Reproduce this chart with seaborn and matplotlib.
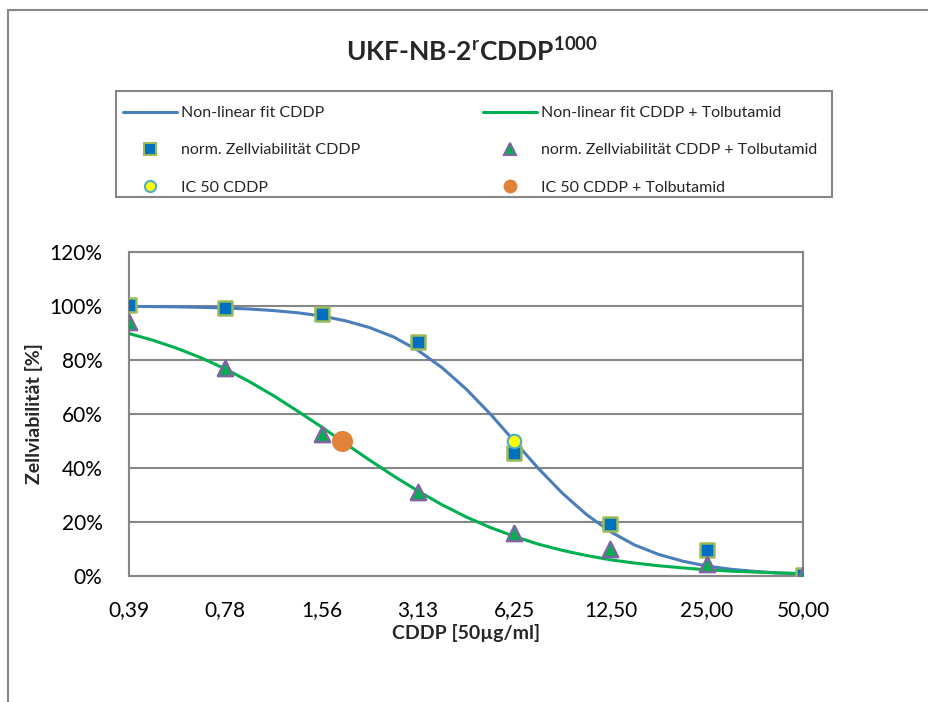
import matplotlib
matplotlib.use("Agg")
import matplotlib.pyplot as plt
import seaborn as sns
import pandas as pd
from matplotlib.lines import Line2D
from matplotlib.patches import Rectangle
from matplotlib.ticker import FixedLocator

# ---------------- data ----------------
conc_labels = ["0,39", "0,78", "1,56", "3,13", "6,25", "12,50", "25,00", "50,00"]
viab_cddp = [100.5, 99.2, 97.0, 86.5, 45.5, 19.2, 9.8, 0.4]
viab_cddp_tolb = [94.0, 77.0, 52.5, 31.0, 16.0, 10.0, 4.3, 0.5]
ic50_cddp_pos = [4.0]
ic50_cddp_val = [50.0]
ic50_tolb_pos = [2.21]
ic50_tolb_val = [50.0]
# fitted curves at quarter-category steps
fit_pos = [i * 0.25 for i in range(29)]
fit_cddp = [99.85, 99.78, 99.67, 99.5, 99.25, 98.9, 98.3, 97.5, 96.3, 94.5, 92.0,
            88.5, 83.6, 77.2, 69.3, 60.1, 50.0, 39.9, 30.7, 22.8, 16.4, 11.5,
            8.0, 5.5, 3.7, 2.5, 1.7, 1.1, 0.75]
fit_cddp_tolb = [89.8, 87.3, 84.3, 80.8, 76.7, 72.0, 66.8, 61.1, 55.2, 49.0, 42.9,
                 37.0, 31.5, 26.4, 21.9, 18.0, 14.7, 11.8, 9.5, 7.6, 6.0, 4.8,
                 3.8, 3.0, 2.3, 1.8, 1.45, 1.13, 0.9]
y_ticks = [0, 20, 40, 60, 80, 100, 120]

# ---------------- style ----------------
sns.set_theme(style="white")
plt.rcParams['font.family'] = ['Lato', 'DejaVu Sans']
plt.rcParams['mathtext.fontset'] = 'custom'
plt.rcParams['mathtext.bf'] = 'Lato:bold'
plt.rcParams['mathtext.rm'] = 'Lato'

W, H = 929, 702
fig = plt.figure(figsize=(W / 100, H / 100), dpi=100)
fig.patch.set_facecolor("white")

grid_c = "#868686"
blue_line = "#4A7EBB"
green_line = "#00B050"

# outer chart border
fig.add_artist(Rectangle((8 / W, -0.05), 1.2, (H - 10) / H + 0.05,
                         transform=fig.transFigure, fill=False,
                         edgecolor=grid_c, lw=1.5))
# legend frame
fig.add_artist(Rectangle((116 / W, 1 - 197 / H), (832 - 116) / W, (197 - 91) / H,
                         transform=fig.transFigure, fill=False,
                         edgecolor=grid_c, lw=1.5))

ax = fig.add_axes([129 / W, 1 - 576 / H, (803 - 129) / W, (576 - 252) / H])
ax.set_facecolor("white")

df_fit = pd.DataFrame({"x": fit_pos, "cddp": fit_cddp, "tolb": fit_cddp_tolb})
idx = list(range(len(conc_labels)))
df_pts = pd.DataFrame({"x": idx, "cddp": viab_cddp, "tolb": viab_cddp_tolb})

for yv in y_ticks:
    ax.axhline(yv, color=grid_c, lw=1.5, zorder=0)

sns.lineplot(data=df_fit, x="x", y="cddp", ax=ax, color=blue_line, lw=2.2,
             zorder=3, legend=False)
sns.lineplot(data=df_fit, x="x", y="tolb", ax=ax, color=green_line, lw=2.2,
             zorder=3, legend=False)
sns.scatterplot(data=df_pts, x="x", y="cddp", ax=ax, marker="s", s=110,
                color="#0070C0", edgecolor="#9BBB59", linewidth=1.8, zorder=4,
                legend=False)
sns.scatterplot(data=df_pts, x="x", y="tolb", ax=ax, marker="^", s=120,
                color="#00B050", edgecolor="#8064A2", linewidth=1.8, zorder=5,
                legend=False)
sns.scatterplot(x=ic50_cddp_pos, y=ic50_cddp_val, ax=ax, marker="o", s=95,
                color="#FFFF00", edgecolor="#4BACC6", linewidth=1.5, zorder=6,
                legend=False)
sns.scatterplot(x=ic50_tolb_pos, y=ic50_tolb_val, ax=ax, marker="o", s=230,
                color="#E0823A", edgecolor="#E0823A", linewidth=0, zorder=6,
                legend=False)

ax.set_xlim(0, len(conc_labels) - 1)
ax.set_ylim(0, 120)
ax.xaxis.set_major_locator(FixedLocator(idx))
ax.set_xticklabels(conc_labels)
ax.yaxis.set_major_locator(FixedLocator(y_ticks))
ax.set_yticklabels([f"{v}%" for v in y_ticks])
ax.tick_params(axis="both", labelsize=15, colors=grid_c, labelcolor="black",
               direction="out", width=1.5)
ax.tick_params(axis="x", length=7, pad=10)
ax.tick_params(axis="y", length=8, pad=11)
for side in ["left", "bottom", "right", "top"]:
    ax.spines[side].set_color(grid_c)
    ax.spines[side].set_linewidth(1.5)
    ax.spines[side].set_visible(True)

ax.set_xlabel("CDDP [50µg/ml]", fontsize=14, fontweight="bold", labelpad=3)
ax.set_ylabel("Zellviabilität [%]", fontsize=14, fontweight="bold", labelpad=5)

fig.text(472 / W, 1 - 51 / H, r"UKF-NB-2$^{\mathbf{r}}$CDDP$^{\mathbf{1000}}$",
         ha="center", va="center", fontsize=19, fontweight="bold")

col1_handles = [
    Line2D([], [], color=blue_line, lw=2.2),
    Line2D([], [], ls="none", marker="s", ms=8, mfc="#0070C0", mec="#9BBB59", mew=1.5),
    Line2D([], [], ls="none", marker="o", ms=8, mfc="#FFFF00", mec="#4BACC6", mew=1.5),
]
col2_handles = [
    Line2D([], [], color=green_line, lw=2.2),
    Line2D([], [], ls="none", marker="^", ms=9, mfc="#00B050", mec="#8064A2", mew=1.5),
    Line2D([], [], ls="none", marker="o", ms=10, mfc="#E0823A", mec="#E0823A", mew=0),
]
col1_labels = ["Non-linear fit CDDP", "norm. Zellviabilität CDDP", "IC 50 CDDP"]
col2_labels = ["Non-linear fit CDDP + Tolbutamid",
               "norm. Zellviabilität CDDP + Tolbutamid",
               "IC 50 CDDP + Tolbutamid"]
leg_kw = dict(loc="upper left", fontsize=11.5, frameon=False, handlelength=3.38,
              handletextpad=0.25, labelspacing=1.44, borderaxespad=0, borderpad=0)
leg1 = fig.legend(col1_handles, col1_labels,
                  bbox_to_anchor=(123 / W, 1 - 106 / H), **leg_kw)
leg2 = fig.legend(col2_handles, col2_labels,
                  bbox_to_anchor=(483 / W, 1 - 106 / H), **leg_kw)

fig.savefig("out.png", dpi=100)
